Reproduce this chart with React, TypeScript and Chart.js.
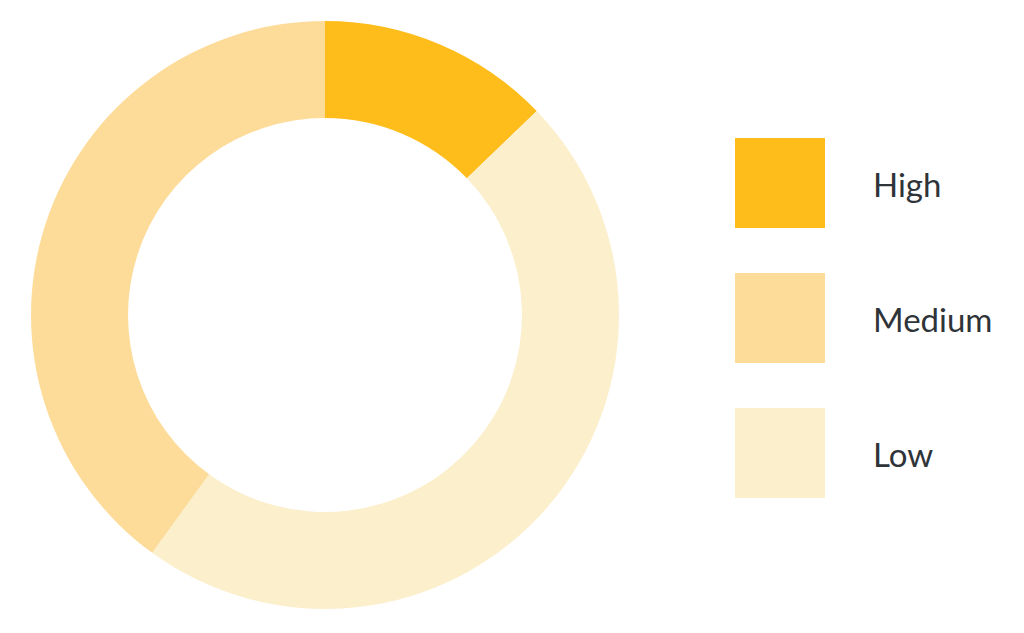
import { useEffect, useRef } from 'react';
import { Chart, registerables } from 'chart.js';

Chart.register(...registerables);

// legend order
const categories = ['High', 'Medium', 'Low'];
const shares = [12.8, 40, 47.2];
const colors = ['#febd1a', '#fddc9a', '#fcefcc'];
// clockwise order of the slices, starting at 12 o'clock
const sliceOrder = ['High', 'Low', 'Medium'];

const textColor = '#2f3439';
const fontFamily = 'Lato, "Open Sans", sans-serif';

function RiskDoughnut() {
  const canvasRef = useRef<HTMLCanvasElement | null>(null);
  const chartInstance = useRef<Chart | null>(null);

  useEffect(() => {
    if (!canvasRef.current) return;

    if (chartInstance.current) {
      chartInstance.current.destroy();
      chartInstance.current = null;
    }

    const idx = sliceOrder.map(name => categories.indexOf(name));

    chartInstance.current = new Chart(canvasRef.current, {
      type: 'doughnut',
      data: {
        labels: idx.map(i => categories[i]),
        datasets: [{
          data: idx.map(i => shares[i]),
          backgroundColor: idx.map(i => colors[i]),
          borderWidth: 0,
          hoverOffset: 0
        }]
      },
      options: {
        responsive: true,
        maintainAspectRatio: false,
        animation: false,
        cutout: '67%',
        layout: { padding: 0 },
        plugins: {
          legend: { display: false },
          tooltip: { enabled: false }
        }
      }
    });

    return () => {
      if (chartInstance.current) {
        chartInstance.current.destroy();
        chartInstance.current = null;
      }
    };
  }, []);

  return (
    <div style={{ position: 'absolute', left: 31, top: 21, width: 588, height: 588 }}>
      <canvas ref={canvasRef} />
    </div>
  );
}

function Legend() {
  return (
    <div style={{ position: 'absolute', left: 735, top: 138 }}>
      {categories.map((name, i) => (
        <div
          key={name}
          style={{ display: 'flex', alignItems: 'center', height: 90, marginBottom: 45 }}
        >
          <div style={{ width: 90, height: 90, background: colors[i] }} />
          <span
            style={{
              marginLeft: 48,
              fontFamily,
              fontSize: 33,
              color: textColor,
              lineHeight: '90px',
              position: 'relative',
              top: 1
            }}
          >
            {name}
          </span>
        </div>
      ))}
    </div>
  );
}

export default function App() {
  return (
    <div style={{ position: 'fixed', left: 0, top: 0, width: 1024, height: 633, background: '#fff' }}>
      <RiskDoughnut />
      <Legend />
    </div>
  );
}
